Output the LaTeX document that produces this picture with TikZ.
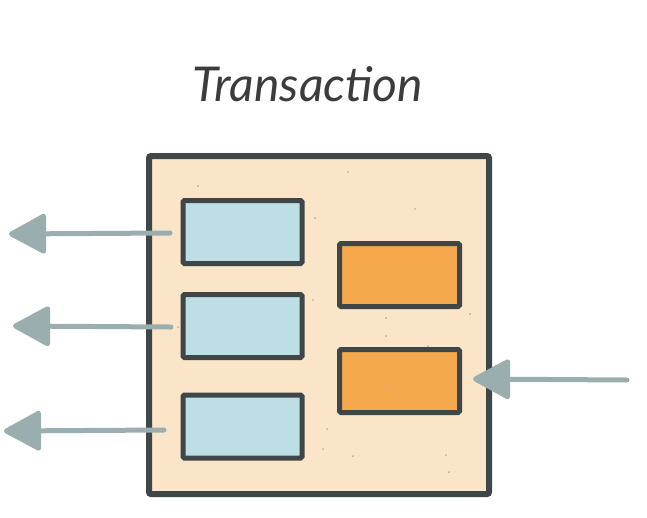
\documentclass[tikz,border=0pt]{standalone}
\usepackage{fontspec}
\setmainfont{Lato}
\usetikzlibrary{arrows.meta}
\definecolor{edge}{HTML}{3E4648}
\definecolor{paper}{HTML}{FAE5C8}
\definecolor{bluef}{HTML}{BEDEE6}
\definecolor{orangef}{HTML}{F5A84C}
\definecolor{arrowc}{HTML}{9BAEAF}
\definecolor{titlec}{HTML}{3C3C3C}
\definecolor{speck}{HTML}{B8B0A8}
\tikzset{
  outerbox/.style={draw=edge,fill=paper,line width=6pt,rounded corners=2pt},
  bluebox/.style={draw=edge,fill=bluef,line width=5pt,rounded corners=1.5pt,minimum width=119pt,minimum height=63pt,inner sep=0pt},
  orangebox/.style={draw=edge,fill=orangef,line width=5pt,rounded corners=1.5pt,minimum width=120pt,minimum height=63pt,inner sep=0pt},
  flow/.style={draw=arrowc,line width=5pt,line cap=round,-{Triangle[length=40pt,width=42pt,round]}},
  specks/.style={fill=speck}
}
\begin{document}
\begin{tikzpicture}[x=1pt,y=-1pt]
\useasboundingbox (0,0) rectangle (647,517);
\node[font=\fontsize{48}{52}\selectfont\itshape,text=titlec,anchor=base] (title) at (308,101) {Transaction};
\node[outerbox,minimum width=340pt,minimum height=338pt,inner sep=0pt] (frame) at (319,325) {};
\node[bluebox] (b1) at (242.5,232) {};
\node[bluebox] (b2) at (242.5,326) {};
\node[bluebox] (b3) at (242.5,426.5) {};
\node[orangebox] (o1) at (399.5,275) {};
\node[orangebox] (o2) at (399.5,381) {};
\coordinate (s1) at (170,233);
\coordinate (e1) at (9,234);
\coordinate (s2) at (171,327);
\coordinate (e2) at (13,326);
\coordinate (s3) at (164,430);
\coordinate (e3) at (4,431);
\coordinate (s4) at (627,380);
\coordinate (e4) at (473,379);
\draw[flow] (s1) -- (e1);
\draw[flow] (s2) -- (e2);
\draw[flow] (s3) -- (e3);
\draw[flow] (s4) -- (e4);
\foreach \p in {(198,186),(348,172),(315,218),(415,209),(313,300),(386,318),(386,336),(428,346),(470,314),(327,429),(323,449),(353,456),(446,455),(449,472),(384,387),(178,327)}
  \fill[specks] \p circle (1pt);
\end{tikzpicture}
\end{document}
